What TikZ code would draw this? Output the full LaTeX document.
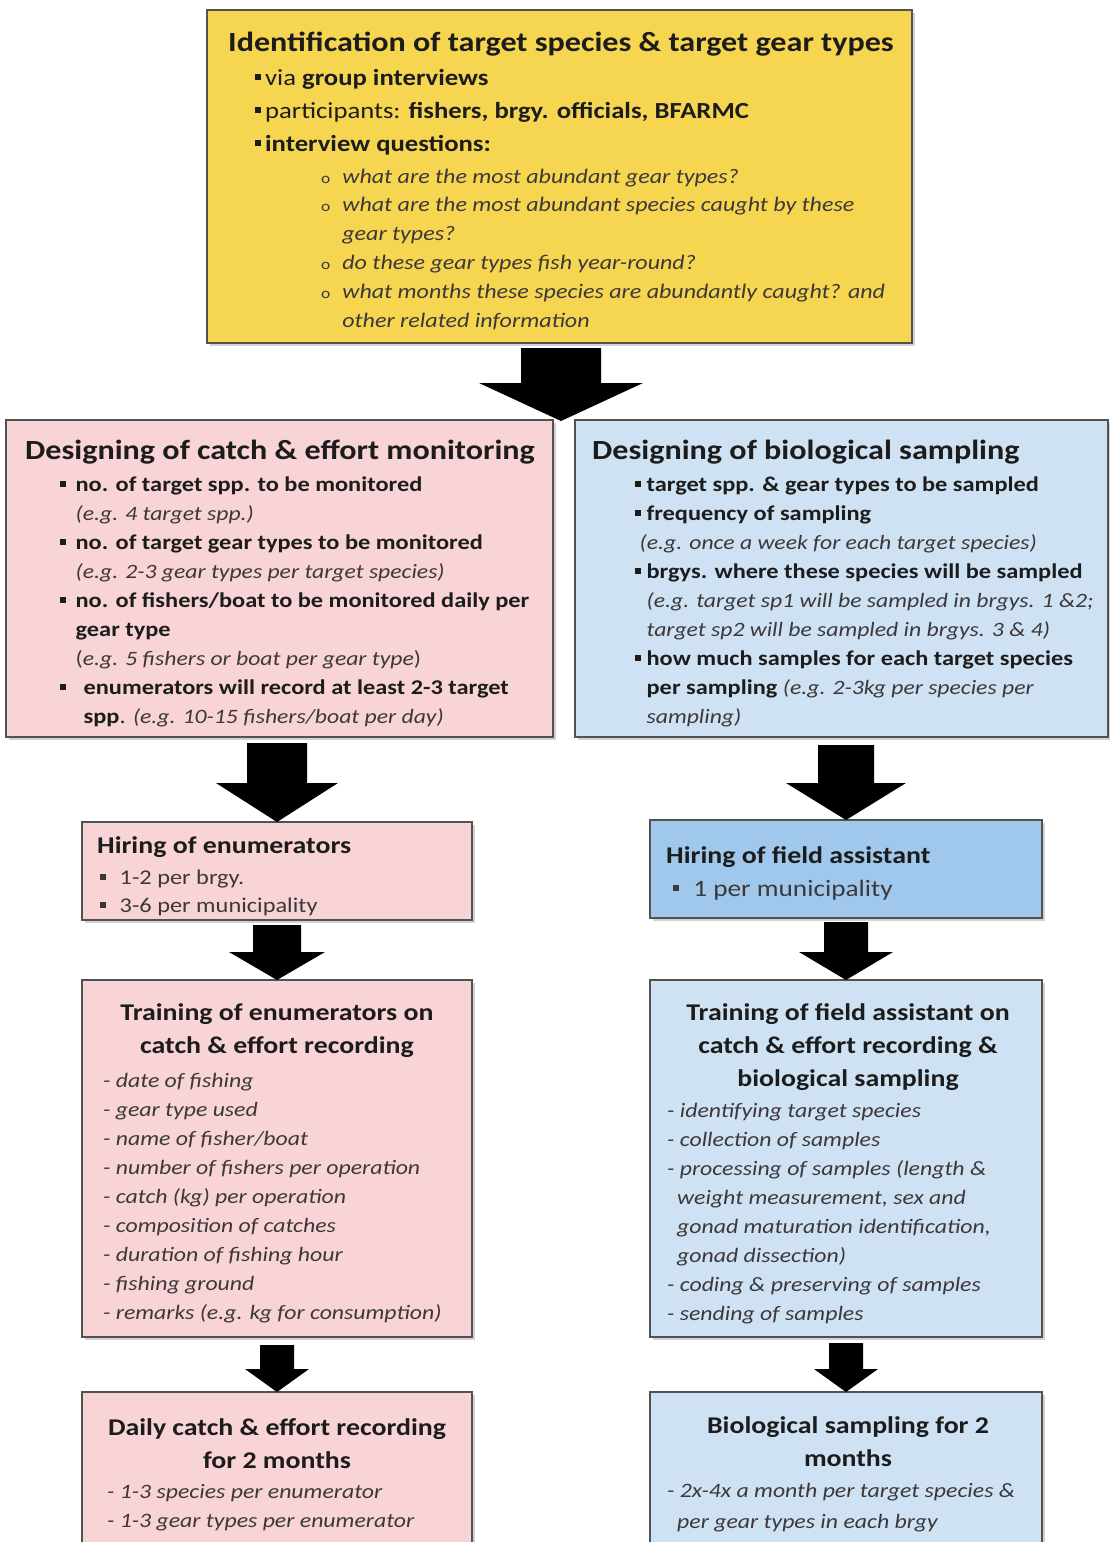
\documentclass[tikz,border=0pt]{standalone}
\usepackage{fontspec}
\setmainfont{Carlito}[FakeStretch=1.16]
\usetikzlibrary{calc,shadows}
\definecolor{ybox}{RGB}{246,214,80}
\definecolor{pbox}{RGB}{248,212,214}
\definecolor{bbox}{RGB}{206,226,243}
\definecolor{bdark}{RGB}{160,200,236}
\definecolor{tmain}{RGB}{28,28,28}
\definecolor{tit}{RGB}{60,56,58}
\newcommand\sqb{\rule[0.2em]{0.26em}{0.26em}}
\newcommand\egi[1]{{\fontsize{20.4}{29}\selectfont\color{tit}\itshape #1}}
\newcommand\barrow[6]{%
  \fill[arrowfill] let \p1=(#2), \p2=(#1) in
    (\x1-#3pt,\y2-#6pt) -- (\x1+#3pt,\y2-#6pt) -- (\x1+#3pt,\y1+#5pt) --
    (\x1+#4pt,\y1+#5pt) -- (\x1,\y1) -- (\x1-#4pt,\y1+#5pt) --
    (\x1-#3pt,\y1+#5pt) -- cycle;}
\tikzset{
  box/.style={draw=black!68, line width=1.8pt, inner sep=0pt, outer sep=0pt,
    anchor=north west, drop shadow={shadow xshift=2.5pt, shadow yshift=-2.5pt, fill=black!35}},
  txt/.style={anchor=base west, inner sep=0pt, text=tmain},
  ctxt/.style={anchor=base, inner sep=0pt, text=tmain},
  arrowfill/.style={fill=black},
  ttl/.style={font=\fontsize{27.7}{33}\selectfont\bfseries},
  ttls/.style={font=\fontsize{24}{33}\selectfont\bfseries},
  bod/.style={font=\fontsize{21}{29}\selectfont},
  bodi/.style={font=\fontsize{20.5}{29}\selectfont},
  bodq/.style={font=\fontsize{20.7}{28.8}\selectfont},
}
\begin{document}
\begin{tikzpicture}[x=1pt,y=-1pt]
\useasboundingbox (0,0) rectangle (1110,1542);
\clip (0,0) rectangle (1110,1542);
\fill[white] (0,0) rectangle (1110,1542);

% ---------- boxes ----------
\node[box, fill=ybox, minimum width=705pt, minimum height=333pt] (ident) at (207,10) {};
\node[box, fill=pbox, minimum width=547pt, minimum height=317pt] (dcatch) at (6,420) {};
\node[box, fill=bbox, minimum width=533pt, minimum height=317pt] (dbio) at (575,420) {};
\node[box, fill=pbox, minimum width=390pt, minimum height=98pt] (hire) at (82,822) {};
\node[box, fill=bdark, minimum width=392pt, minimum height=98pt] (hirefa) at (650,820) {};
\node[box, fill=pbox, minimum width=390pt, minimum height=357pt] (train) at (82,980) {};
\node[box, fill=bbox, minimum width=392pt, minimum height=357pt] (trainfa) at (650,980) {};
\node[box, fill=pbox, minimum width=390pt, minimum height=190pt] (daily) at (82,1392) {};
\node[box, fill=bbox, minimum width=392pt, minimum height=190pt] (biosamp) at (650,1392) {};

\coordinate (split) at (561,421);

% ---------- arrows ----------
\barrow{ident.south}{split}{40}{82}{38}{5}
\barrow{dcatch.south}{hire.north}{30}{61}{39}{6}
\barrow{dbio.south}{hirefa.north}{28}{60}{37}{8}
\barrow{hire.south}{train.north}{24}{48}{28}{5}
\barrow{hirefa.south}{trainfa.north}{22}{47}{28}{4}
\barrow{train.south}{daily.north}{17}{32}{23}{8}
\barrow{trainfa.south}{biosamp.north}{17}{32}{23}{6}

% ---------- identification box ----------
\node[txt, ttl] (identt) at (228,51) {Identification of target species \& target gear types};
\node[txt, font=\fontsize{23}{33}\selectfont] (identb) at (255,85) {\begin{tabular}[t]{@{}l@{\hspace{4pt}}l@{}}
\sqb & via \textbf{group  interviews}\\
\sqb & participants: \textbf{fishers, brgy. officials, BFARMC}\\
\sqb & \textbf{interview questions:}
\end{tabular}};
\node[txt, bodq, text=tit] (identq) at (321,183) {\begin{tabular}[t]{@{}l@{\hspace{12pt}}l@{}}
{\fontsize{15}{15}\selectfont o} & \textit{what are the most abundant gear types?}\\
{\fontsize{15}{15}\selectfont o} & \textit{what are the most abundant species  caught by these}\\
 & \textit{gear types?}\\
{\fontsize{15}{15}\selectfont o} & \textit{do these gear types fish year-round?}\\
{\fontsize{15}{15}\selectfont o} & \textit{what months these species are abundantly caught? and}\\
 & \textit{other related information}
\end{tabular}};

% ---------- designing catch & effort ----------
\node[txt, ttl] (dcatcht) at (25,459) {Designing of catch \& effort monitoring};
\node[txt, bod] (dcatchb) at (60,491) {\begin{tabular}[t]{@{}l@{\hspace{10pt}}l@{}}
\sqb & \textbf{no. of target spp. to be monitored}\\
 & \egi{(e.g. 4 target spp.)}\\
\sqb & \textbf{no. of  target gear types to be monitored}\\
 & \egi{(e.g. 2-3 gear types per target species)}\\
\sqb & \textbf{no. of  fishers/boat to be monitored daily per}\\
 & \textbf{gear type}\\
 & \egi{\upshape(\itshape e.g. 5 fishers or boat per gear type\upshape)}\\
\sqb & \hspace{8pt}\textbf{enumerators will record at least 2-3 target}\\
 & \hspace{8pt}\textbf{spp}. \egi{(e.g. 10-15 fishers/boat per day)}
\end{tabular}};

% ---------- designing biological sampling ----------
\node[txt, ttl] (dbiot) at (592,459) {Designing of biological sampling};
\node[txt, bod] (dbiob) at (635,491) {\begin{tabular}[t]{@{}l@{\hspace{6pt}}l@{}}
\sqb & \textbf{target spp. \& gear types to be sampled}\\
\sqb & \textbf{frequency of sampling}\\
 & \hspace{-7pt}\egi{(e.g. once a week for each target species)}\\
\sqb & \textbf{brgys. where these species will be sampled}\\
 & \egi{(e.g. target sp1 will be sampled in brgys. 1 \&2;}\\
 & \egi{target sp2 will be sampled in brgys. 3 \& 4)}\\
\sqb & \textbf{how much samples for each target species}\\
 & \textbf{per sampling} \egi{(e.g. 2-3kg per species per}\\
 & \egi{sampling)}
\end{tabular}};

% ---------- hiring ----------
\node[txt, ttls] (hiret) at (97,853) {Hiring of enumerators};
\node[txt, font=\fontsize{21}{28}\selectfont, text=tit] (hireb) at (100,884) {\begin{tabular}[t]{@{}l@{\hspace{14pt}}l@{}}
\sqb & 1-2 per brgy.\\
\sqb & 3-6 per municipality
\end{tabular}};
\node[txt, ttls] (hirefat) at (666,863) {Hiring of field assistant};
\node[txt, font=\fontsize{23.5}{28}\selectfont, text=tit] (hirefab) at (673,896) {\begin{tabular}[t]{@{}l@{\hspace{14pt}}l@{}}
\sqb & 1 per municipality
\end{tabular}};

% ---------- training ----------
\node[ctxt, ttls] (traint) at (277,1020) {\begin{tabular}[t]{@{}c@{}}
Training of enumerators on\\ catch \& effort recording\end{tabular}};
\node[txt, bodi, text=tit] (trainb) at (103,1087) {\begin{tabular}[t]{@{}l@{}}
\textit{- date of fishing}\\
\textit{- gear type used}\\
\textit{- name of fisher/boat}\\
\textit{- number of fishers per operation}\\
\textit{- catch (kg) per operation}\\
\textit{- composition of catches}\\
\textit{- duration of fishing hour}\\
\textit{- fishing ground}\\
\textit{- remarks (e.g. kg for consumption)}
\end{tabular}};
\node[ctxt, ttls] (trainfat) at (848,1020) {\begin{tabular}[t]{@{}c@{}}
Training of field assistant on\\ catch \& effort recording \&\\ biological sampling\end{tabular}};
\node[txt, bodi, text=tit] (trainfab) at (667,1117) {\begin{tabular}[t]{@{}l@{}}
\textit{- identifying target species}\\
\textit{- collection of samples}\\
\textit{- processing of samples (length \&}\\
\hspace{10pt}\textit{weight measurement, sex and}\\
\hspace{10pt}\textit{gonad maturation identification,}\\
\hspace{10pt}\textit{gonad dissection)}\\
\textit{- coding \& preserving of samples}\\
\textit{- sending of samples}
\end{tabular}};

% ---------- final boxes ----------
\node[ctxt, ttls] (dailyt) at (277,1435) {\begin{tabular}[t]{@{}c@{}}
Daily catch \& effort recording\\ for 2 months\end{tabular}};
\node[txt, bodi, text=tit] (dailyb) at (107,1498) {\begin{tabular}[t]{@{}l@{}}
\textit{- 1-3 species per enumerator}\\
\textit{- 1-3 gear types per enumerator}
\end{tabular}};
\node[ctxt, ttls] (biosampt) at (848,1433) {\begin{tabular}[t]{@{}c@{}}
Biological sampling for 2\\ months\end{tabular}};
\node[txt, font=\fontsize{20.5}{31}\selectfont, text=tit] (biosampb) at (667,1497) {\begin{tabular}[t]{@{}l@{}}
\textit{- 2x-4x a month per target species \&}\\
\hspace{10pt}\textit{per gear types in each brgy}
\end{tabular}};
\end{tikzpicture}
\end{document}
